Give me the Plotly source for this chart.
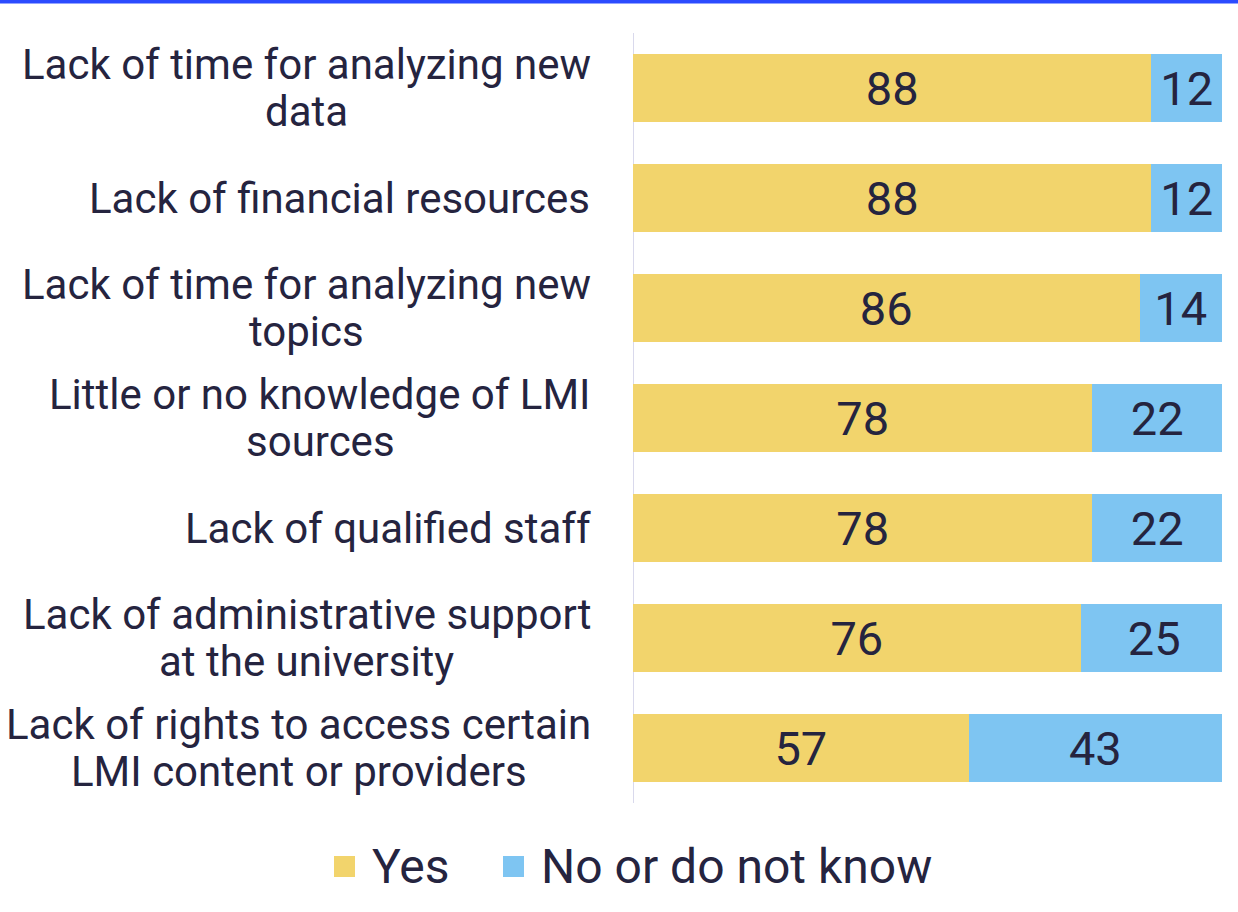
import plotly.graph_objects as go

categories = [
    "Lack of time for analyzing new<br>data",
    "Lack of financial resources",
    "Lack of time for analyzing new<br>topics",
    "Little or no knowledge of LMI<br>sources",
    "Lack of qualified staff",
    "Lack of administrative support<br>at the university",
    "Lack of rights to access certain<br>LMI content or providers",
]
yes_values = [88, 88, 86, 78, 78, 76, 57]
no_values = [12, 12, 14, 22, 22, 25, 43]
series_names = ["Yes", "No or do not know"]

TEXT = "#25243f"
YELLOW = "#F2D46C"
BLUE = "#7EC5F2"
FONT = "Roboto, Arial, sans-serif"
LABEL_SIZE = 42
VALUE_SIZE = 47
LEGEND_SIZE = 48

W, H = 1238, 912
L, R, T, B = 633, 16, 33, 109
PW, PH = W - L - R, H - T - B

# Roboto Regular advance widths (units per 2048 em), used to centre wrapped lines
ROBOTO_ADV = {
    " ": 507, "a": 1089, "b": 1120, "c": 1045, "d": 1126, "e": 1058, "f": 702,
    "g": 1122, "h": 1102, "i": 486, "k": 1015, "l": 486, "m": 1751, "n": 1104,
    "o": 1139, "p": 1120, "r": 678, "s": 1030, "t": 655, "u": 1102, "v": 967,
    "w": 1508, "y": 950, "z": 991, "L": 1076, "I": 548, "M": 1747,
}


def text_width(s, size):
    return sum(ROBOTO_ADV.get(ch, 1050) for ch in s) / 2048 * size * 1.019


def px_x(px):
    return (px - L) / PW


def px_y(py):
    return (T + PH - py) / PH


fig = go.Figure()
for name, vals, col in [(series_names[0], yes_values, YELLOW),
                        (series_names[1], no_values, BLUE)]:
    fig.add_trace(go.Bar(
        y=categories, x=vals, name=name, orientation="h",
        marker=dict(color=col, line=dict(width=0)),
        text=vals, textposition="inside", insidetextanchor="middle",
        textfont=dict(color=TEXT, size=VALUE_SIZE, family=FONT),
        showlegend=False,
    ))

# category labels: block right-aligned at the label edge, lines centred in it
LABEL_RIGHT = 590
line_pitch = 47
for cat in categories:
    lines = cat.split("<br>")
    n = len(lines)
    block_w = max(text_width(l, LABEL_SIZE) for l in lines)
    centre = LABEL_RIGHT - block_w / 2
    for i, line in enumerate(lines):
        fig.add_annotation(
            x=px_x(centre), xref="paper", y=cat, yref="y",
            text=line, showarrow=False, xanchor="center", yanchor="middle",
            yshift=-(i - (n - 1) / 2) * line_pitch, borderpad=0,
            font=dict(size=LABEL_SIZE, color=TEXT, family=FONT),
        )

# legend drawn as squares + text
legend_items = [(series_names[0], YELLOW, 334), (series_names[1], BLUE, 503)]
for name, col, x0 in legend_items:
    fig.add_shape(
        type="rect", xref="paper", yref="paper",
        x0=px_x(x0), x1=px_x(x0 + 21), y0=px_y(877), y1=px_y(856),
        fillcolor=col, line=dict(width=0),
    )
    fig.add_annotation(
        x=px_x(x0 + 36), xref="paper", y=px_y(866), yref="paper",
        text=name, showarrow=False, xanchor="left", yanchor="middle",
        font=dict(size=LEGEND_SIZE, color=TEXT, family=FONT),
    )

# thin accent bar across the top of the page
fig.add_shape(
    type="rect", xref="paper", yref="paper",
    x0=px_x(0), x1=px_x(W), y0=px_y(3.5), y1=px_y(-5),
    fillcolor="#2B4BFF", line=dict(width=0), layer="above",
)

# vertical axis line at the bar baseline
fig.add_shape(
    type="line", xref="x", yref="paper", x0=0, x1=0, y0=0, y1=1,
    line=dict(color="#D9D9EC", width=2), layer="below",
)

fig.update_layout(
    width=W, height=H,
    margin=dict(l=L, r=R, t=T, b=B),
    barmode="stack", bargap=0.39,
    plot_bgcolor="white", paper_bgcolor="white",
    font=dict(family=FONT, color=TEXT, size=LABEL_SIZE),
    uniformtext=dict(minsize=VALUE_SIZE, mode="show"),
    xaxis=dict(range=[0, 100], visible=False, fixedrange=True),
    yaxis=dict(
        autorange="reversed", showgrid=False, zeroline=False,
        showline=False, ticks="", showticklabels=False,
    ),
    showlegend=False,
)

fig.write_html("out.html")
